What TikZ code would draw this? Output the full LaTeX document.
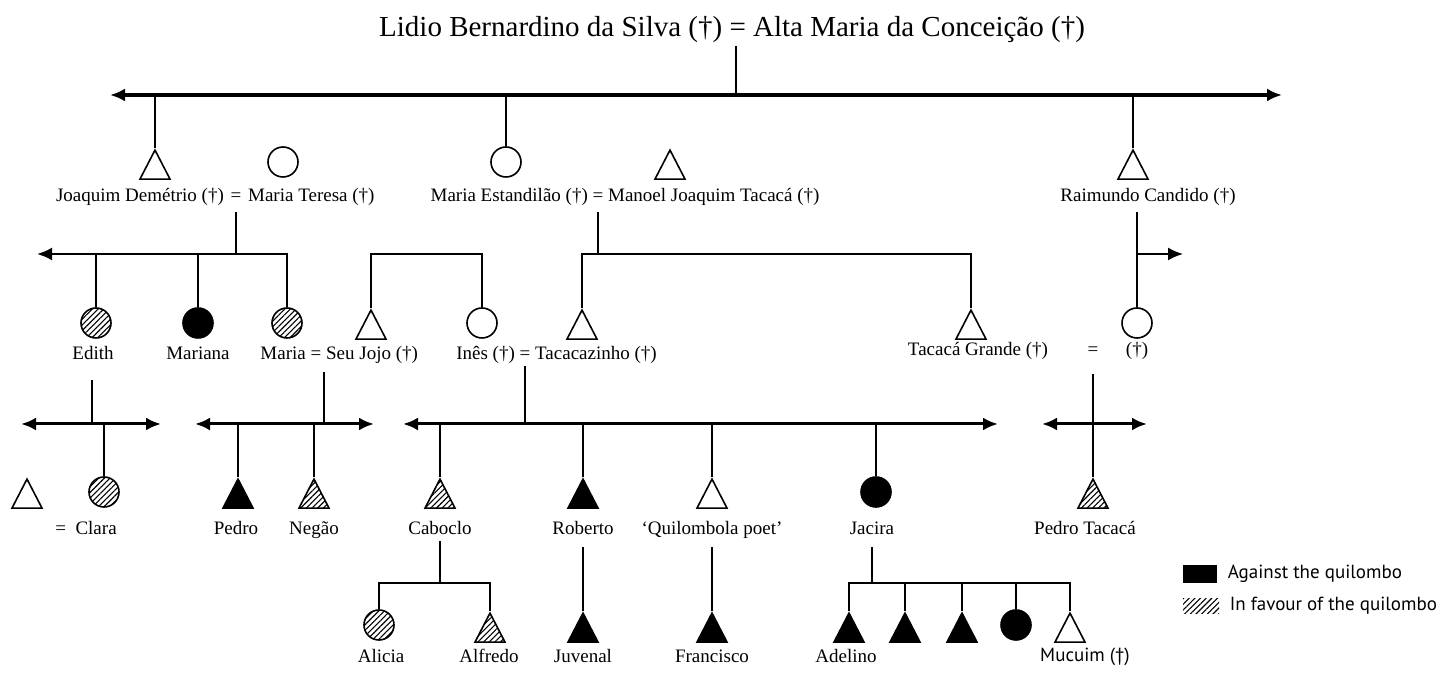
\documentclass[tikz,border=0pt]{standalone}
\usepackage{fontspec}
\setmainfont{Liberation Serif}
\newfontfamily\keyfont{PT Sans}
\usepackage{tikz}
\usetikzlibrary{arrows.meta, shapes.geometric, patterns.meta}
\usetikzlibrary{positioning}
\tikzstyle{male} = [
    isosceles triangle,
    shape border rotate=90,
    isosceles triangle stretches,
    anchor=apex,
    draw=black,
    line width=0.8pt,
    inner sep=0pt,
    minimum width=15pt,
    minimum height=14.5pt
]
\tikzstyle{female} = [
    circle,
    draw=black,
    line width=0.8pt,
    inner sep=0pt,
    minimum size=15pt
]
\tikzstyle{against} = [fill=black]
\tikzstyle{favour} = [
    pattern={Lines[angle=45, distance=2pt, line width=0.55pt]}
]
\tikzstyle{name_label} = [
    font=\fontsize{9.5}{11}\selectfont,
    text height=7pt,
    text depth=2pt,
    inner sep=1pt
]
\tikzstyle{title_label} = [
    font=\fontsize{14.5}{17}\selectfont,
    inner sep=1pt
]
\tikzstyle{key_label} = [
    font=\keyfont\fontsize{9.5}{11}\selectfont,
    text height=7pt,
    text depth=2pt,
    inner sep=1pt
]
\tikzstyle{descent} = [line width=0.9pt]
\tikzstyle{sibling} = [line width=1.5pt]

\begin{document}
\begin{tikzpicture}[
    x=0.5pt, y=-0.5pt,
    >={Latex[length=7.5pt, width=6.5pt]}
]
\useasboundingbox (0,0) rectangle (1448,673);

% founding couple
\node [title_label] (founders) at (732,30) {Lidio Bernardino da Silva (†) = Alta Maria da Conceição (†)};
\coordinate (top) at (736,95);
\coordinate (topL) at (110,95);
\coordinate (topR) at (1282,95);
\draw [descent] (founders.south -| top) -- (top);
\draw [sibling, line width=1.6pt, <->] (topL) -- (topR);

% first generation
\node [male] (joaquim) at (155,148) {};
\node [female] (mteresa) at (283,162) {};
\node [female] (estandilao) at (506,162) {};
\node [male] (manoel) at (670,148) {};
\node [male] (raimundo) at (1133,148) {};
\draw [descent] (joaquim |- top) -- (joaquim);
\draw [descent] (estandilao |- top) -- (estandilao);
\draw [descent] (raimundo |- top) -- (raimundo);

\node [name_label] (eq1) at (236,197) {=};
\node [name_label, left=1pt of eq1] (ljoaquim) {Joaquim Demétrio (†)};
\node [name_label, right=1pt of eq1] (lteresa) {Maria Teresa (†)};
\node [name_label] (eq2) at (598,197) {=};
\node [name_label, left=0pt of eq2] (lestandilao) {Maria Estandilão (†)};
\node [name_label, right=0pt of eq2] (lmanoel) {Manoel Joaquim Tacacá (†)};
\node [name_label] (lraimundo) at (1148,197) {Raimundo Candido (†)};

% Joaquim and Maria Teresa's children
\coordinate (jk) at (236,254);
\coordinate (jkL) at (37,254);
\node [female, favour] (edith) at (96,323) {};
\node [female, against] (mariana) at (198,323) {};
\node [female, favour] (maria) at (287,323) {};
\draw [descent, shorten <=2pt] (eq1.south) -- (jk);
\draw [descent, line width=1.1pt, ->] (maria) |- (jkL);
\draw [descent] (edith |- jk) -- (edith);
\draw [descent] (mariana |- jk) -- (mariana);

% Seu Jojo and Ines (siblings)
\node [male] (seujojo) at (371,308) {};
\node [female] (ines) at (482,323) {};
\draw [descent] (seujojo) |- (ines |- jk) -- (ines);

% Maria Estandilao and Manoel's children
\coordinate (ek) at (598,254);
\node [male] (tacacazinho) at (582,308) {};
\node [male] (tgrande) at (971,308) {};
\draw [descent, shorten <=2pt] (eq2.south) -- (ek);
\draw [descent] (tacacazinho) |- (ek) -| (tgrande);

% Raimundo's line
\coordinate (rk) at (1137,254);
\coordinate (rkR) at (1183,254);
\node [female] (rdaughter) at (1137,323) {};
\draw [descent, shorten <=2pt] (lraimundo.south -| rdaughter) -- (rdaughter);
\draw [descent, ->] (rk) -- (rkR);

% second generation names
\node [name_label] (ledith) at (93,355) {Edith};
\node [name_label] (lmariana) at (198,355) {Mariana};
\node [name_label] (eq3) at (316,355) {=};
\node [name_label, left=0pt of eq3] (lmaria) {Maria};
\node [name_label, right=0pt of eq3] (lseujojo) {Seu Jojo (†)};
\node [name_label] (eq4) at (525,355) {=};
\node [name_label, left=0pt of eq4] (lines) {Inês (†)};
\node [name_label, right=0pt of eq4] (ltacacazinho) {Tacacazinho (†)};
\node [name_label] (ltgrande) at (978,351) {Tacacá Grande (†)};
\node [name_label] (eq5) at (1093,351) {=};
\node [name_label] (lrdaughter) at (1137,351) {(†)};

% Edith's family
\coordinate (ed) at (92,424);
\coordinate (edL) at (21,424);
\coordinate (edR) at (161,424);
\node [male] (edhusband) at (27,477) {};
\node [female, favour] (clara) at (104,492) {};
\draw [descent, shorten <=7pt] (ledith.south -| ed) -- (ed);
\draw [sibling, <->] (edL) -- (edR);
\draw [descent] (clara |- ed) -- (clara);
\node [name_label] (lclara) at (86,530) {= \ Clara};

% Maria and Seu Jojo's family
\coordinate (mj) at (324,424);
\coordinate (mjL) at (195,424);
\coordinate (mjR) at (374,424);
\node [male, against] (pedro) at (238,477) {};
\node [male, favour] (negao) at (314,477) {};
\draw [descent, shorten <=3pt] (eq3.south -| mj) -- (mj);
\draw [sibling, <->] (mjL) -- (mjR);
\draw [descent] (pedro |- mj) -- (pedro);
\draw [descent] (negao |- mj) -- (negao);
\node [name_label] (lpedro) at (236,530) {Pedro};
\node [name_label] (lnegao) at (314,530) {Negão};

% Ines and Tacacazinho's family
\coordinate (it) at (525,424);
\coordinate (itL) at (403,424);
\coordinate (itR) at (998,424);
\node [male, favour] (caboclo) at (440,477) {};
\node [male, against] (roberto) at (583,477) {};
\node [male] (poet) at (712,477) {};
\node [female, against] (jacira) at (876,492) {};
\draw [descent] (eq4.south) -- (it);
\draw [sibling, <->] (itL) -- (itR);
\draw [descent] (caboclo |- it) -- (caboclo);
\draw [descent] (roberto |- it) -- (roberto);
\draw [descent] (poet |- it) -- (poet);
\draw [descent] (jacira |- it) -- (jacira);
\node [name_label] (lcaboclo) at (440,530) {Caboclo};
\node [name_label] (lroberto) at (583,530) {Roberto};
\node [name_label] (lpoet) at (712,530) {‘Quilombola poet’};
\node [name_label] (ljacira) at (872,530) {Jacira};

% Tacaca Grande's family
\coordinate (tgL) at (1042,424);
\coordinate (tgR) at (1147,424);
\node [male, favour] (pedrot) at (1093,477) {};
\draw [descent, shorten <=6pt] (eq5.south) -- (pedrot);
\draw [sibling, <->] (tgL) -- (tgR);
\node [name_label] (lpedrot) at (1085,530) {Pedro Tacacá};

% Caboclo's children
\coordinate (cb) at (440,583);
\node [female, favour] (alicia) at (379,625) {};
\node [male, favour] (alfredo) at (490,611) {};
\draw [descent] (lcaboclo.south) -- (cb);
\draw [descent] (alicia) |- (cb) -| (alfredo);
\node [name_label] (lalicia) at (381,658) {Alicia};
\node [name_label] (lalfredo) at (489,658) {Alfredo};

% Roberto's and the poet's sons
\node [male, against] (juvenal) at (583,611) {};
\node [male, against] (francisco) at (712,611) {};
\draw [descent, shorten <=3pt] (lroberto.south) -- (juvenal);
\draw [descent, shorten <=3pt] (lpoet.south) -- (francisco);
\node [name_label] (ljuvenal) at (583,658) {Juvenal};
\node [name_label] (lfrancisco) at (712,658) {Francisco};

% Jacira's children
\coordinate (jc) at (872,583);
\node [male, against] (adelino) at (849,611) {};
\node [male, against] (jkid2) at (905,611) {};
\node [male, against] (jkid3) at (962,611) {};
\node [female, against] (jkid4) at (1016,625) {};
\node [male] (mucuim) at (1070,611) {};
\draw [descent, shorten <=3pt] (ljacira.south) -- (jc);
\draw [descent] (adelino) |- (jc) -| (mucuim);
\draw [descent] (jkid2 |- jc) -- (jkid2);
\draw [descent] (jkid3 |- jc) -- (jkid3);
\draw [descent] (jkid4 |- jc) -- (jkid4);
\node [name_label] (ladelino) at (846,658) {Adelino};
\node [key_label] (lmucuim) at (1085,657) {Mucuim (†)};

% key
\node [fill=black, inner sep=0pt, minimum width=17pt, minimum height=9pt] (keyagainst) at (1200,574) {};
\node [key_label, right=4pt of keyagainst] (lagainst) {Against the quilombo};
\node [favour, inner sep=0pt, minimum width=18pt, minimum height=7.5pt] (keyfavour) at (1201,606) {};
\node [key_label, right=4pt of keyfavour] (lfavour) {In favour of the quilombo};
\end{tikzpicture}
\end{document}
